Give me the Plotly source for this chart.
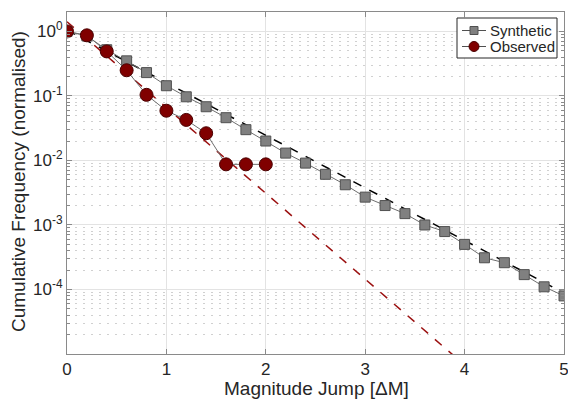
import numpy as np
import plotly.graph_objects as go

# Magnitude jump bins
dm_syn = [0.0, 0.2, 0.4, 0.6, 0.8, 1.0, 1.2, 1.4, 1.6, 1.8, 2.0, 2.2, 2.4,
          2.6, 2.8, 3.0, 3.2, 3.4, 3.6, 3.8, 4.0, 4.2, 4.4, 4.6, 4.8, 5.0]
freq_syn = [1.0, 0.85, 0.52, 0.35, 0.23, 0.144, 0.097, 0.068, 0.046, 0.030,
            0.020, 0.013, 0.0091, 0.0061, 0.0042, 0.0027, 0.0020, 0.0015,
            0.0010, 0.00079, 0.00050, 0.00031, 0.00026, 0.00017, 0.00011,
            0.0000795]

dm_obs = [0.0, 0.2, 0.4, 0.6, 0.8, 1.0, 1.2, 1.4, 1.6, 1.8, 2.0]
freq_obs = [1.0, 0.87, 0.49, 0.25, 0.104, 0.059, 0.0425, 0.0264, 0.0087,
            0.0087, 0.0087]

# Exponential fits: log10(N) = a - b * dM
fit_syn = (0.02, 0.815)
fit_obs = (0.15, 1.33)
fit_x = [0.0, 5.0]

series_names = ["Synthetic", "Observed"]

FONT = "Liberation Sans, Arial, Helvetica, sans-serif"
W, H = 568, 399
ML, MR, MT, MB = 67, 4, 12, 45
PW, PH = W - ML - MR, H - MT - MB

SYN_FILL, SYN_EDGE = "#808080", "#505050"
OBS_FILL, OBS_EDGE = "#800000", "#4a0000"
LINK = "#6e6e6e"


def px_x(p):
    return (p - ML) / PW


def px_y(p):
    return (H - MB - p) / PH


fig = go.Figure()

for (a, b), col in [(fit_syn, "black"), (fit_obs, "#9b1010")]:
    fig.add_trace(go.Scatter(
        x=fit_x, y=[10 ** (a - b * x) for x in fit_x], mode="lines",
        line=dict(color=col, width=1.5, dash="dash"),
        showlegend=False, hoverinfo="skip"))

fig.add_trace(go.Scatter(
    x=dm_syn, y=freq_syn, mode="lines+markers", name=series_names[0],
    line=dict(color=LINK, width=1),
    marker=dict(symbol="square", size=10, color=SYN_FILL,
                line=dict(color=SYN_EDGE, width=1)),
    showlegend=False))
fig.add_trace(go.Scatter(
    x=dm_obs, y=freq_obs, mode="lines+markers", name=series_names[1],
    line=dict(color=LINK, width=1),
    marker=dict(symbol="circle", size=13, color=OBS_FILL,
                line=dict(color=OBS_EDGE, width=1)),
    showlegend=False))

# Legend box drawn in paper space
shapes = [dict(type="rect", xref="paper", yref="paper",
               x0=px_x(457), x1=px_x(557), y0=px_y(58), y1=px_y(18),
               fillcolor="white", line=dict(color="#262626", width=1),
               layer="above")]
annotations = []
rows = [(30.5, "square", SYN_FILL, SYN_EDGE, 4),
        (46.5, "circle", OBS_FILL, OBS_EDGE, 5)]
for name, (yc, sym, fill, edge, r) in zip(series_names, rows):
    shapes.append(dict(type="line", xref="paper", yref="paper",
                       x0=px_x(462), x1=px_x(486), y0=px_y(yc), y1=px_y(yc),
                       line=dict(color="#505050", width=1), layer="above"))
    shapes.append(dict(type="rect" if sym == "square" else "circle",
                       xref="paper", yref="paper",
                       x0=px_x(474 - r), x1=px_x(474 + r),
                       y0=px_y(yc + r), y1=px_y(yc - r),
                       fillcolor=fill, line=dict(color=edge, width=1),
                       layer="above"))
    annotations.append(dict(text=name, xref="paper", yref="paper",
                            x=px_x(488), y=px_y(yc), xanchor="left",
                            yanchor="middle", showarrow=False,
                            font=dict(size=15, color="#262626")))

# Axis titles
annotations.append(dict(text="Magnitude Jump [ΔM]", xref="paper", yref="paper",
                        x=px_x(316), y=px_y(388.5), xanchor="center",
                        yanchor="middle", showarrow=False,
                        font=dict(size=19, color="#262626")))
annotations.append(dict(text="Cumulative Frequency (normalised)", xref="paper",
                        yref="paper", x=px_x(18), y=px_y(182),
                        xanchor="center", yanchor="middle", textangle=-90,
                        showarrow=False, font=dict(size=19, color="#262626")))

dec_vals = [10.0 ** k for k in range(-4, 1)]
dec_text = [f"10<sup>{k}</sup>" for k in range(-4, 1)]
minor_vals = [m * 10.0 ** k for k in range(-5, 0) for m in range(2, 10)]

fig.update_layout(
    width=W, height=H,
    margin=dict(l=ML, r=MR, t=MT, b=MB),
    paper_bgcolor="white", plot_bgcolor="white",
    font=dict(family=FONT, size=17, color="#262626"),
    showlegend=False,
    shapes=shapes, annotations=annotations,
)

fig.update_xaxes(
    range=[0, 5], tickvals=[0, 1, 2, 3, 4, 5],
    ticklabeloverflow="allow", automargin=False,
    showgrid=True, gridcolor="#e3e3e3", gridwidth=1,
    showline=True, linecolor="#8a8a8a", linewidth=1, mirror="ticks",
    ticks="inside", ticklen=5, tickcolor="#8a8a8a",
    zeroline=False,
)
fig.update_yaxes(
    type="log", range=[-5, np.log10(2)], automargin=False,
    tickvals=dec_vals, ticktext=dec_text,
    showgrid=True, gridcolor="#e3e3e3", gridwidth=1,
    showline=True, linecolor="#8a8a8a", linewidth=1, mirror="ticks",
    ticks="inside", ticklen=5, tickcolor="#8a8a8a",
    minor=dict(tickvals=minor_vals, showgrid=True, gridcolor="#d0d0d0",
               griddash="2px,6px", gridwidth=1, ticks="inside", ticklen=3,
               tickcolor="#8a8a8a"),
    zeroline=False,
)

fig.write_html("out.html")
